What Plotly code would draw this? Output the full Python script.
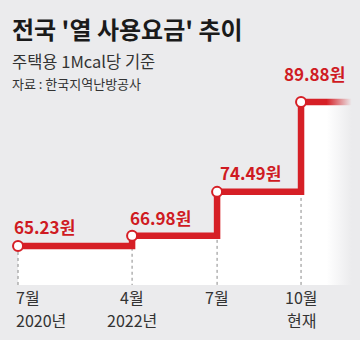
import plotly.graph_objects as go

# --- data -------------------------------------------------------------
months = ["7월", "4월", "7월", "10월"]
years = ["2020년", "2022년", "", "현재"]
fees = [65.23, 66.98, 74.49, 89.88]          # 원 per 1Mcal
fee_labels = [f"{v:.2f}원" for v in fees]

# --- layout constants ---------------------------------------------------
x_pos = [0.0, 1.209, 2.110, 3.0]              # horizontal placement of each step
X_MIN, X_MAX = -0.191, 3.625
Y_MIN, Y_MAX = 58.55, 107.33
W, H, BOTTOM = 360, 340, 55
PLOT_H = H - BOTTOM

RED = "#d61f26"
BG = "#ebebed"
BG_CLEAR = "rgba(235,235,237,0)"
FONT = "Noto Sans CJK KR"

step_x = x_pos + [X_MAX]
step_y = fees + [fees[-1]]


def py(px):
    """Pixel row (from top of page) -> paper y coordinate."""
    return (PLOT_H - px) / PLOT_H


fig = go.Figure()

# white area under the stepped line
fig.add_trace(go.Scatter(
    x=step_x, y=step_y, mode="lines",
    line=dict(width=0, shape="hv"),
    fill="tozeroy", fillcolor="white", hoverinfo="skip",
))

# dotted guides from each change point down to the axis
for xp, v in zip(x_pos, fees):
    fig.add_trace(go.Scatter(
        x=[xp, xp], y=[v, Y_MIN], mode="lines",
        line=dict(color="#8a8a8a", width=1, dash="dot"),
        hoverinfo="skip",
    ))

# the stepped fee line
fig.add_trace(go.Scatter(
    x=step_x, y=step_y, mode="lines",
    line=dict(color=RED, width=6.5, shape="hv"),
    hoverinfo="skip",
))

# fade-out at the right edge
fx0 = 3.27
ftop = 90.7
fig.add_trace(go.Scatter(
    x=[fx0, X_MAX, X_MAX, fx0, fx0],
    y=[ftop, ftop, Y_MIN, Y_MIN, ftop],
    mode="lines", line=dict(width=0),
    fill="toself",
    fillgradient=dict(type="horizontal",
                      colorscale=[[0, BG_CLEAR], [0.75, BG], [1, BG]]),
    hoverinfo="skip",
))

# change-point markers
fig.add_trace(go.Scatter(
    x=x_pos, y=fees, mode="markers",
    marker=dict(size=10, color="white", line=dict(color=RED, width=2)),
    hoverinfo="skip",
))

annotations = []

# value labels
label_shift = [(-6, 19), (-4, 18), (1, 19), (-19, 28)]
for xp, v, txt, (dx, dy) in zip(x_pos, fees, fee_labels, label_shift):
    annotations.append(dict(
        x=xp, y=v, xref="x", yref="y", text=txt, showarrow=False,
        xanchor="left", yanchor="middle", xshift=dx, yshift=dy,
        font=dict(family=FONT, size=17, color="#cf1a22", weight=700),
    ))

# period labels below the chart
for i, (xp, m, yv) in enumerate(zip(x_pos, months, years)):
    anchor = "left" if i == 0 else "center"
    shift = -4 if i == 0 else 0
    for txt, row in ((m, 297), (yv, 320)):
        if not txt:
            continue
        annotations.append(dict(
            x=xp, y=py(row), xref="x", yref="paper", text=txt,
            showarrow=False, xanchor=anchor, yanchor="middle", xshift=shift,
            font=dict(family=FONT, size=16, color="#333333"),
        ))

# heading block
annotations += [
    dict(x=10 / W, y=py(29), xref="paper", yref="paper",
         text="전국 '열 사용요금' 추이", showarrow=False,
         xanchor="left", yanchor="middle",
         font=dict(family=FONT, size=24, color="#1a1a1a", weight=700)),
    dict(x=10 / W, y=py(61), xref="paper", yref="paper",
         text="주택용 1Mcal당 기준", showarrow=False,
         xanchor="left", yanchor="middle",
         font=dict(family=FONT, size=16.5, color="#333333")),
    dict(x=10 / W, y=py(83), xref="paper", yref="paper",
         text="자료 : 한국지역난방공사", showarrow=False,
         xanchor="left", yanchor="middle",
         font=dict(family=FONT, size=13, color="#333333")),
]

fig.update_layout(
    width=W, height=H,
    margin=dict(l=0, r=0, t=0, b=BOTTOM, pad=0),
    paper_bgcolor=BG, plot_bgcolor=BG,
    showlegend=False,
    xaxis=dict(range=[X_MIN, X_MAX], visible=False, fixedrange=True),
    yaxis=dict(range=[Y_MIN, Y_MAX], visible=False, fixedrange=True),
    annotations=annotations,
)

fig.write_html("out.html", config={"displayModeBar": False})
